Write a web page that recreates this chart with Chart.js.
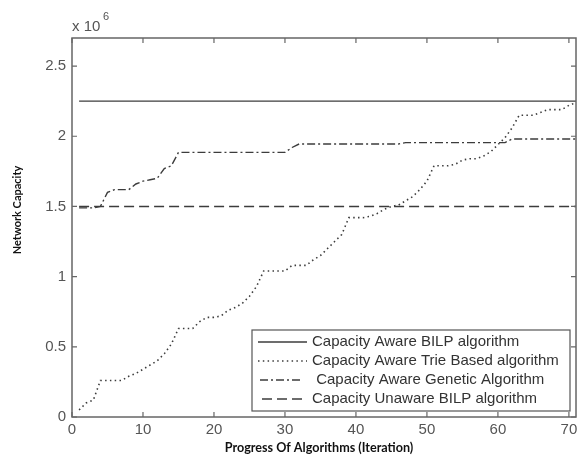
<!DOCTYPE html>
<html>
<head>
<meta charset="utf-8">
<script src="https://cdn.jsdelivr.net/npm/chart.js@4/dist/chart.umd.min.js"></script>
<style>
  html, body { margin: 0; padding: 0; background: #fff; }
  #wrap { width: 577px; height: 457px; }
</style>
</head>
<body>
<div id="wrap"><canvas id="chart" width="577" height="457"></canvas></div>
<script>
// iterations (x) and network capacity in units of 10^6
const bilpX = [1, 71];
const bilpY = [2.25, 2.25];

const unawareX = [1, 71];
const unawareY = [1.5, 1.5];

const iterations = Array.from({ length: 71 }, (_, i) => i + 1);

const trieY = [
    0.05, 0.10, 0.12, 0.26, 0.26, 0.26, 0.26, 0.29, 0.31, 0.34,
    0.37, 0.40, 0.45, 0.52, 0.63, 0.63, 0.63, 0.68, 0.71, 0.71,
    0.72, 0.76, 0.78, 0.81, 0.86, 0.93, 1.04, 1.04, 1.04, 1.04,
    1.08, 1.08, 1.08, 1.12, 1.15, 1.20, 1.25, 1.30, 1.42, 1.42,
    1.42, 1.43, 1.45, 1.48, 1.50, 1.51, 1.54, 1.57, 1.62, 1.68,
    1.79, 1.79, 1.79, 1.80, 1.83, 1.84, 1.84, 1.86, 1.89, 1.94,
    1.99, 2.06, 2.15, 2.15, 2.15, 2.17, 2.19, 2.19, 2.19, 2.22,
    2.24
];

const geneticY = [
    1.49, 1.49, 1.49, 1.50, 1.60, 1.62, 1.62, 1.62, 1.66, 1.68,
    1.69, 1.70, 1.77, 1.79, 1.885, 1.885, 1.885, 1.885, 1.885, 1.885,
    1.885, 1.885, 1.885, 1.885, 1.885, 1.885, 1.885, 1.885, 1.885, 1.885,
    1.92, 1.945, 1.945, 1.945, 1.945, 1.945, 1.945, 1.945, 1.945, 1.945,
    1.945, 1.945, 1.945, 1.945, 1.945, 1.945, 1.955, 1.955, 1.955, 1.955,
    1.955, 1.955, 1.955, 1.955, 1.955, 1.955, 1.955, 1.955, 1.955, 1.955,
    1.955, 1.98, 1.98, 1.98, 1.98, 1.98, 1.98, 1.98, 1.98, 1.98,
    1.98
];

const xTicks = [0, 10, 20, 30, 40, 50, 60, 70];
const yTicks = [0, 0.5, 1, 1.5, 2, 2.5];

const seriesNames = [
    'Capacity Aware BILP algorithm',
    'Capacity Aware Trie Based algorithm',
    ' Capacity Aware Genetic Algorithm',
    'Capacity Unaware BILP algorithm'
];

const toPoints = (xs, ys) => xs.map((x, i) => ({ x: x, y: ys[i] }));

const lineColor = '#3c3c3c';
const axisColor = '#666';
const textColor = '#555';

function lineStyle(dash, width) {
    return {
        borderColor: lineColor,
        borderWidth: width,
        borderDash: dash,
        pointRadius: 0,
        fill: false,
        tension: 0
    };
}

const datasets = [
    { label: seriesNames[0], data: toPoints(bilpX, bilpY), ...lineStyle([], 1.3) },
    { label: seriesNames[1], data: toPoints(iterations, trieY), ...lineStyle([1.5, 3.3], 1.6) },
    { label: seriesNames[2], data: toPoints(iterations, geneticY), ...lineStyle([8, 3, 2, 3], 1.4) },
    { label: seriesNames[3], data: toPoints(unawareX, unawareY), ...lineStyle([10, 5], 1.4) }
];

// MATLAB-like box, inward ticks, legend and exponent label
const matlabDecor = {
    id: 'matlabDecor',
    afterDatasetsDraw(chart) {
        const { ctx, chartArea: a, scales } = chart;
        ctx.save();

        // box
        ctx.strokeStyle = axisColor;
        ctx.lineWidth = 1.5;
        ctx.setLineDash([]);
        ctx.strokeRect(a.left, a.top, a.right - a.left, a.bottom - a.top);

        // inward ticks on all sides
        const tl = 5;
        ctx.lineWidth = 1.2;
        ctx.beginPath();
        xTicks.forEach(v => {
            const px = scales.x.getPixelForValue(v);
            ctx.moveTo(px, a.bottom); ctx.lineTo(px, a.bottom - tl);
            ctx.moveTo(px, a.top); ctx.lineTo(px, a.top + tl);
        });
        yTicks.forEach(v => {
            const py = scales.y.getPixelForValue(v);
            ctx.moveTo(a.left, py); ctx.lineTo(a.left + tl, py);
            ctx.moveTo(a.right, py); ctx.lineTo(a.right - tl, py);
        });
        ctx.stroke();

        // exponent label
        ctx.fillStyle = textColor;
        ctx.font = '15px "Liberation Sans", Arial, sans-serif';
        ctx.textBaseline = 'alphabetic';
        ctx.textAlign = 'left';
        ctx.fillText('x 10', 72, 31);
        ctx.font = '11px "Liberation Sans", Arial, sans-serif';
        ctx.fillText('6', 103, 20);

        // axis titles
        ctx.fillStyle = '#111';
        ctx.textAlign = 'center';
        ctx.textBaseline = 'middle';
        ctx.font = 'bold 12.6px Lato, "Open Sans", sans-serif';
        ctx.fillText('Progress Of Algorithms (Iteration)', 319, 448);
        ctx.font = 'bold 11px Lato, "Open Sans", sans-serif';
        ctx.save();
        ctx.translate(17, 210);
        ctx.rotate(-Math.PI / 2);
        ctx.fillText('Network Capacity', 0, 0);
        ctx.restore();

        // legend
        const box = { x: 252, y: 330, w: 318, h: 81 };
        ctx.fillStyle = '#fff';
        ctx.fillRect(box.x, box.y, box.w, box.h);
        ctx.strokeStyle = '#555';
        ctx.lineWidth = 1.2;
        ctx.strokeRect(box.x, box.y, box.w, box.h);

        const rows = [342, 361, 380, 399];
        const samples = [[258, 307], [258, 307], [260, 300], [262, 306]];
        ctx.font = '15px "Liberation Sans", Arial, sans-serif';
        ctx.textAlign = 'left';
        ctx.textBaseline = 'middle';
        chart.data.datasets.forEach((ds, i) => {
            ctx.strokeStyle = ds.borderColor;
            ctx.lineWidth = ds.borderWidth;
            ctx.setLineDash(ds.borderDash);
            ctx.beginPath();
            ctx.moveTo(samples[i][0], rows[i]);
            ctx.lineTo(samples[i][1], rows[i]);
            ctx.stroke();
            ctx.setLineDash([]);
            ctx.fillStyle = '#333';
            ctx.fillText(ds.label, 312, rows[i]);
        });

        ctx.restore();
    }
};

new Chart(document.getElementById('chart'), {
    type: 'line',
    data: { datasets: datasets },
    options: {
        responsive: false,
        animation: false,
        layout: { padding: { top: 38, right: 1, left: 0, bottom: 0 } },
        plugins: {
            legend: { display: false },
            tooltip: { enabled: false }
        },
        scales: {
            x: {
                type: 'linear',
                min: 0,
                max: 71,
                afterFit: s => { s.height = 40; s.paddingLeft = 0; s.paddingRight = 0; },
                afterBuildTicks: s => { s.ticks = xTicks.map(v => ({ value: v })); },
                grid: { display: false, drawTicks: false },
                border: { display: false },
                ticks: {
                    padding: 4,
                    color: textColor,
                    font: { family: '"Liberation Sans", Arial, sans-serif', size: 15 }
                }
            },
            y: {
                type: 'linear',
                min: 0,
                max: 2.7,
                afterFit: s => { s.width = 72; s.paddingTop = 0; s.paddingBottom = 0; },
                afterBuildTicks: s => { s.ticks = yTicks.map(v => ({ value: v })); },
                grid: { display: false, drawTicks: false },
                border: { display: false },
                ticks: {
                    padding: 6,
                    color: textColor,
                    font: { family: '"Liberation Sans", Arial, sans-serif', size: 15 },
                    callback: v => String(v)
                }
            }
        }
    },
    plugins: [matlabDecor]
});
</script>
</body>
</html>
